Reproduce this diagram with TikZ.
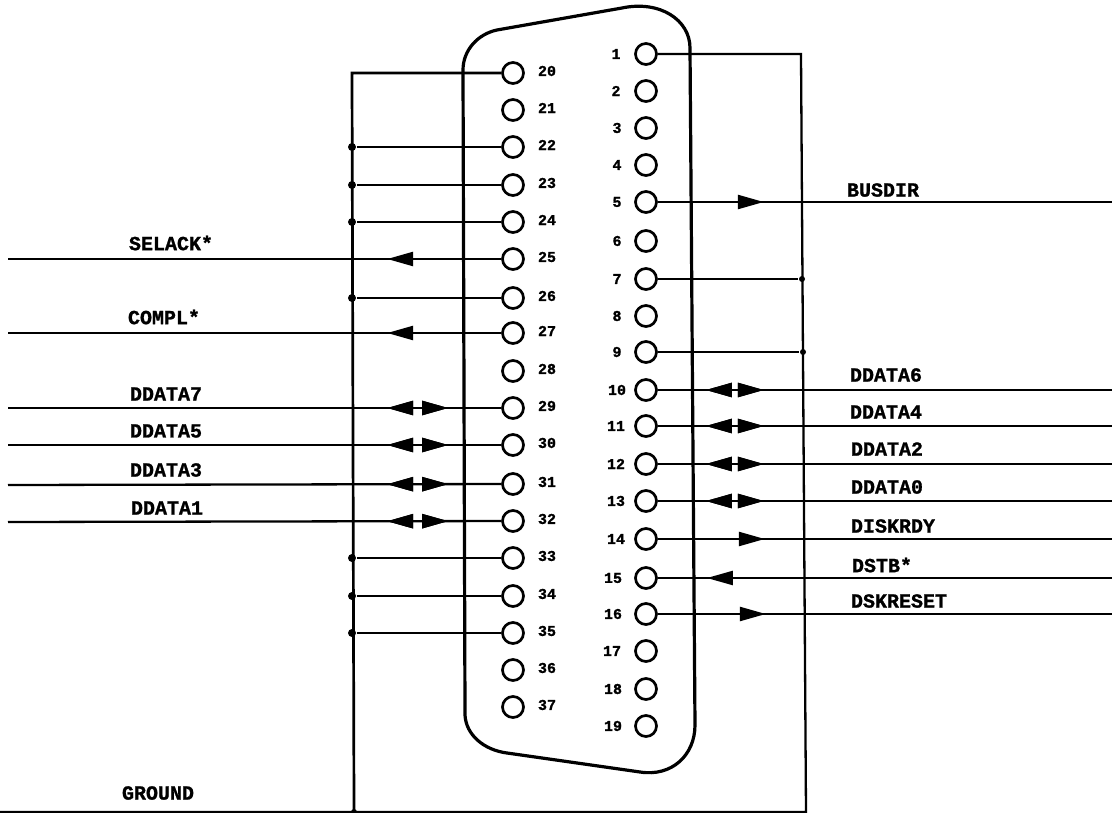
\documentclass[tikz,border=0pt]{standalone}
\usepackage{fontspec}
\setmainfont[BoldFeatures={FakeBold=1.2}]{Liberation Mono}
\usepackage{tikz}
\usetikzlibrary{arrows.meta,decorations.markings}

\begin{document}
\begin{tikzpicture}[x=1pt, y=-1pt, line width=2.3pt, font=\bfseries]
\tikzset{pin/.style = {draw, circle, inner sep=0pt, minimum size=21pt, line width=2.7pt},
  pinno/.style = {font=\fontsize{15}{15}\selectfont\bfseries, inner sep=0pt},
  signame/.style = {font=\fontsize{20}{20}\selectfont\bfseries, inner sep=0pt},
  dot/.style = {circle, fill, inner sep=0pt, minimum size=8pt},
  flow/.style = {postaction={decorate}, decoration={markings,
    mark=at position #1 with {\arrow{Triangle[length=26pt, width=14pt]}}}},
  wolf/.style = {postaction={decorate}, decoration={markings,
    mark=at position #1 with {\arrow{Triangle[reversed, length=26pt, width=14pt]}}}}}

  \useasboundingbox (0,0) rectangle (1112,813);

  % shell of the connector
  \draw[line width=3.2pt] (463,70) .. controls (463,50) and (478,34) .. (497,30)
    -- (622,8) .. controls (660,0) and (690,20) .. (690,48)
    -- (695,725) .. controls (695,755) and (672,777) .. (640,772)
    -- (507,753) .. controls (484,750) and (466,735) .. (465,715) -- cycle;

  % pins
  \foreach \n/\y in {20/73,21/110,22/147,23/185,24/222,25/259,26/298,27/333,28/371,
    29/408,30/445,31/484,32/521,33/558,34/596,35/633,36/670,37/707} {
    \node[pin] (p\n) at (513,\y) {};
    \node[pinno] (t\n) at (547,\y-2) {\n};
  }
  \foreach \n/\y/\tx in {1/54/616,2/91/616,3/128/617,4/165/617,5/202/617,6/241/617,
    7/279/617,8/316/617,9/352/617,10/390/617,11/426/616,12/464/616,13/501/616,
    14/539/616,15/578/613,16/614/613,17/651/612,18/689/613,19/726/613} {
    \node[pin] (p\n) at (646,\y) {};
    \node[pinno] (t\n) at (\tx,\y) {\n};
  }

  % ground buses
  \coordinate (gndleft) at (352,73);
  \coordinate (gndright) at (801,54);
  \coordinate (gndend) at (0,812);
  \coordinate (gndjoin) at (354,812);
  \coordinate (gndcorner) at (806,812);
  \draw[line width=2.7pt] (p20) -- (gndleft) -- (gndjoin);
  \draw (p1) -- (gndright) -- (gndcorner) -- (gndend);
  \node[dot, minimum size=6pt] (j0) at (gndjoin) {};

  \foreach \n/\y in {22/147,23/185,24/222,26/298,33/558,34/596,35/633} {
    \node[dot] (j\n) at (352,\y) {};
    \draw (p\n) -- (j\n);
  }
  \foreach \n/\y/\bx in {7/279/802,9/352/803} {
    \node[dot, minimum size=6pt] (j\n) at (\bx,\y) {};
    \draw (p\n) -- (j\n);
  }

  % left signals
  \coordinate (e25) at (8,259);
  \coordinate (e27) at (8,333);
  \coordinate (e29) at (8,408);
  \coordinate (e30) at (8,445);
  \coordinate (e31) at (8,485);
  \coordinate (e32) at (8,522);
  \draw[flow=114pt] (p25) -- (e25);
  \draw[flow=114pt] (p27) -- (e27);
  \foreach \n in {29,30,31,32} {
    \draw[flow=114pt, wolf=79pt] (p\n) -- (e\n);
  }

  % right signals
  \foreach \n/\y in {5/202,10/390,11/426,12/464,13/501,14/539,15/578,16/614} {
    \coordinate (e\n) at (1112,\y);
  }
  \draw[flow=106pt] (p5) -- (e5);
  \draw[flow=107pt] (p14) -- (e14);
  \draw[flow=108pt] (p16) -- (e16);
  \draw[wolf=75pt] (p15) -- (e15);
  \foreach \n in {10,11,12,13} {
    \draw[flow=106pt, wolf=74pt] (p\n) -- (e\n);
  }

  % signal names
  \node[signame] (selack) at (171,243) {SELACK*};
  \node[signame] (compl) at (164,317) {COMPL*};
  \node[signame] (ddata7) at (166,394) {DDATA7};
  \node[signame] (ddata5) at (166,431) {DDATA5};
  \node[signame] (ddata3) at (166,470) {DDATA3};
  \node[signame] (ddata1) at (167,508) {DDATA1};
  \node[signame] (ground) at (158,793) {GROUND};
  \node[signame] (busdir) at (883,190) {BUSDIR};
  \node[signame] (ddata6) at (886,375) {DDATA6};
  \node[signame] (ddata4) at (886,412) {DDATA4};
  \node[signame] (ddata2) at (887,449) {DDATA2};
  \node[signame] (ddata0) at (887,487) {DDATA0};
  \node[signame] (diskrdy) at (893,526) {DISKRDY};
  \node[signame] (dstb) at (882,565) {DSTB*};
  \node[signame] (dskreset) at (899,601) {DSKRESET};
\end{tikzpicture}
\end{document}
